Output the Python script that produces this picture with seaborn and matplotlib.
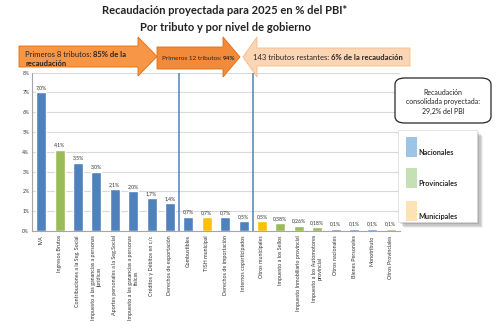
import matplotlib
matplotlib.use("Agg")
import matplotlib.pyplot as plt
import seaborn as sns
import pandas as pd
from matplotlib.patches import Polygon, FancyBboxPatch, Rectangle
from matplotlib.text import Annotation

sns.set_theme(style="white")
plt.rcParams['font.family'] = ['Lato', 'DejaVu Sans']

categorias = [
    "IVA", "Ingresos Brutos", "Contribuciones a la Seg. Social",
    "Impuesto a las ganancias a personas\njurídicas", "Aportes personales a la Seg.Social",
    "Impuesto a las ganancias a personas\nfísicas", "Créditos y Débitos en c/c",
    "Derechos de exportación", "Combustibles", "TISH municipal",
    "Derechos de importación", "Internos coparticipados", "Otros municipales",
    "Impuesto a los Sellos", "Impuesto Inmobiliario provincial",
    "Impuesto a los Automotores\nprovincial", "Otros nacionales",
    "Bienes Personales", "Monotributo", "Otros Provinciales",
]
valores = [7.0, 4.1, 3.45, 3.0, 2.1, 2.0, 1.65, 1.4, 0.72, 0.7, 0.7, 0.5,
           0.5, 0.38, 0.26, 0.18, 0.1, 0.1, 0.1, 0.1]
etiquetas = ["7,0%", "4,1%", "3,5%", "3,0%", "2,1%", "2,0%", "1,7%", "1,4%",
             "0,7%", "0,7%", "0,7%", "0,5%", "0,5%", "0,38%", "0,26%", "0,18%",
             "0,1%", "0,1%", "0,1%", "0,1%"]
nivel = ["Nacional", "Provincial", "Nacional", "Nacional", "Nacional", "Nacional",
         "Nacional", "Nacional", "Nacional", "Municipal", "Nacional", "Nacional",
         "Municipal", "Provincial", "Provincial", "Provincial", "Nacional",
         "Nacional", "Nacional", "Provincial"]
yticks = [0, 1, 2, 3, 4, 5, 6, 7, 8]
ytick_labels = ["0%", "1%", "2%", "3%", "4%", "5%", "6%", "7%", "8%"]

colores_nivel = {"Nacional": "#4F81BD", "Provincial": "#9BBB59", "Municipal": "#FFC000"}
leyenda_labels = ["Nacionales", "Provinciales", "Municipales"]
leyenda_colores = ["#9DC3E6", "#C5E0B4", "#FDE3B4"]

df = pd.DataFrame({"cat": categorias, "val": valores, "nivel": nivel})
palette = [colores_nivel[n] for n in nivel]

W, H = 498, 329
fig = plt.figure(figsize=(W / 100, H / 100), dpi=100)
ax = fig.add_axes([32 / W, 1 - 231 / H, 368 / W, (231 - 72.7) / H])

sns.barplot(data=df, x="cat", y="val", hue="cat", palette=palette, legend=False,
            width=0.55, ax=ax, saturation=1)

ax.set_ylim(0, 8)
ax.set_xlim(-0.5, len(categorias) - 0.5)
ax.set_yticks(yticks)
ax.set_yticklabels(ytick_labels, fontsize=3.6, color="#333333")
ax.yaxis.grid(True, color="#D9D9D9", linewidth=0.8)
ax.set_axisbelow(True)
ax.set_xlabel("")
ax.set_ylabel("")
ax.set_xticks(range(len(categorias)))
ax.set_xticklabels(categorias, rotation=90, fontsize=3.9, color="#333333",
                   va="top", ha="center", multialignment="center")
ax.tick_params(axis="x", length=0, pad=3)
ax.tick_params(axis="y", length=0, pad=2)
for s in ["top", "right"]:
    ax.spines[s].set_visible(False)
ax.spines["left"].set_color("#A6A6A6")
ax.spines["bottom"].set_color("#A6A6A6")
ax.spines["left"].set_linewidth(0.8)
ax.spines["bottom"].set_linewidth(0.8)

for i, (v, t) in enumerate(zip(valores, etiquetas)):
    ax.text(i, v + 0.12, t, ha="center", va="bottom", fontsize=3.7, color="#333333")

for xline in [7.5, 11.5]:
    ax.axvline(xline, color="#4F81BD", linewidth=1.1)


def fx(x):
    return x / W


def fy(y):
    return 1 - y / H


# Titles
fig.text(fx(225), fy(10), "Recaudación proyectada para 2025 en % del PBI*",
         ha="center", va="center", fontsize=8, fontweight="bold", color="#222222")
fig.text(fx(225), fy(27.5), "Por tributo y por nivel de gobierno",
         ha="center", va="center", fontsize=8, fontweight="bold", color="#222222")

# Arrow 1
a1 = [(19, 46), (138, 46), (138, 37), (157, 56.5), (138, 76), (138, 67), (19, 67)]
fig.add_artist(Polygon([(fx(x), fy(y)) for x, y in a1], closed=True,
                       transform=fig.transFigure, facecolor="#F79646",
                       edgecolor="#E46C0A", linewidth=0.6, zorder=1))
# Arrow 2
a2 = [(157, 47), (223, 47), (223, 37), (240, 57), (223, 77), (223, 69), (157, 69)]
fig.add_artist(Polygon([(fx(x), fy(y)) for x, y in a2], closed=True,
                       transform=fig.transFigure, facecolor="#F28A3C",
                       edgecolor="#E46C0A", linewidth=0.6, zorder=1))
# Arrow 3 (left)
a3 = [(410, 48), (257, 48), (257, 37), (243, 57), (257, 77), (257, 66), (410, 66)]
fig.add_artist(Polygon([(fx(x), fy(y)) for x, y in a3], closed=True,
                       transform=fig.transFigure, facecolor="#FCD5B4",
                       edgecolor="#F8B985", linewidth=0.6, zorder=1))


def mixed(x, y, normal, bold, size):
    t = fig.text(fx(x), fy(y), normal, ha="left", va="baseline",
                 fontsize=size, color="#262626", zorder=5)
    an = Annotation(bold, xy=(1, 0), xycoords=t, va="bottom", ha="left",
                    fontsize=size, fontweight="bold", color="#262626",
                    annotation_clip=False, zorder=5)
    fig.add_artist(an)
    return t


mixed(25, 57, "Primeros 8 tributos: ", "85% de la", 5.5)
fig.text(fx(25), fy(65.5), "recaudación", ha="left", va="baseline",
         fontsize=5.5, fontweight="bold", color="#262626", zorder=5)
mixed(162, 60, "Primeros 12 tributos: ", "94%", 4.6)
mixed(253, 59.5, "143 tributos restantes: ", "6% de la recaudación", 5.5)

# Summary box
fig.add_artist(FancyBboxPatch((fx(395), fy(123)), (491 - 395) / W, (123 - 78) / H,
                              boxstyle="round,pad=0,rounding_size=0.02",
                              transform=fig.transFigure, facecolor="white",
                              edgecolor="#262626", linewidth=0.9, zorder=2))
fig.text(fx(443), fy(102), "Recaudación\nconsolidada proyectada:\n29,2% del PBI",
         ha="center", va="center", fontsize=5.0, color="#262626", linespacing=1.45,
         zorder=5)

# Legend (drawn manually to match layout)
lx0, ly0, lx1, ly1 = 398, 130, 477, 222
for k, alpha in enumerate([0.06, 0.08, 0.1, 0.12]):
    off = 6 - k * 1.2
    fig.add_artist(Rectangle((fx(lx0 + off), fy(ly1 + off)), (lx1 - lx0) / W,
                             (ly1 - ly0) / H, transform=fig.transFigure,
                             facecolor="black", alpha=alpha, edgecolor="none", zorder=2))
fig.add_artist(Rectangle((fx(lx0), fy(ly1)), (lx1 - lx0) / W, (ly1 - ly0) / H,
                         transform=fig.transFigure, facecolor="white",
                         edgecolor="#D9D9D9", linewidth=0.5, zorder=3))
patch_tops = [137, 168, 201]
for top, lab, col in zip(patch_tops, leyenda_labels, leyenda_colores):
    fig.add_artist(Rectangle((fx(406), fy(top + 20)), 11 / W, 20 / H,
                             transform=fig.transFigure, facecolor=col,
                             edgecolor="none", zorder=4))
    fig.text(fx(418), fy(top + 16), lab, ha="left", va="center", fontsize=5.2,
             fontweight="bold", color="#262626", zorder=5)

fig.savefig("out.png", dpi=100)
